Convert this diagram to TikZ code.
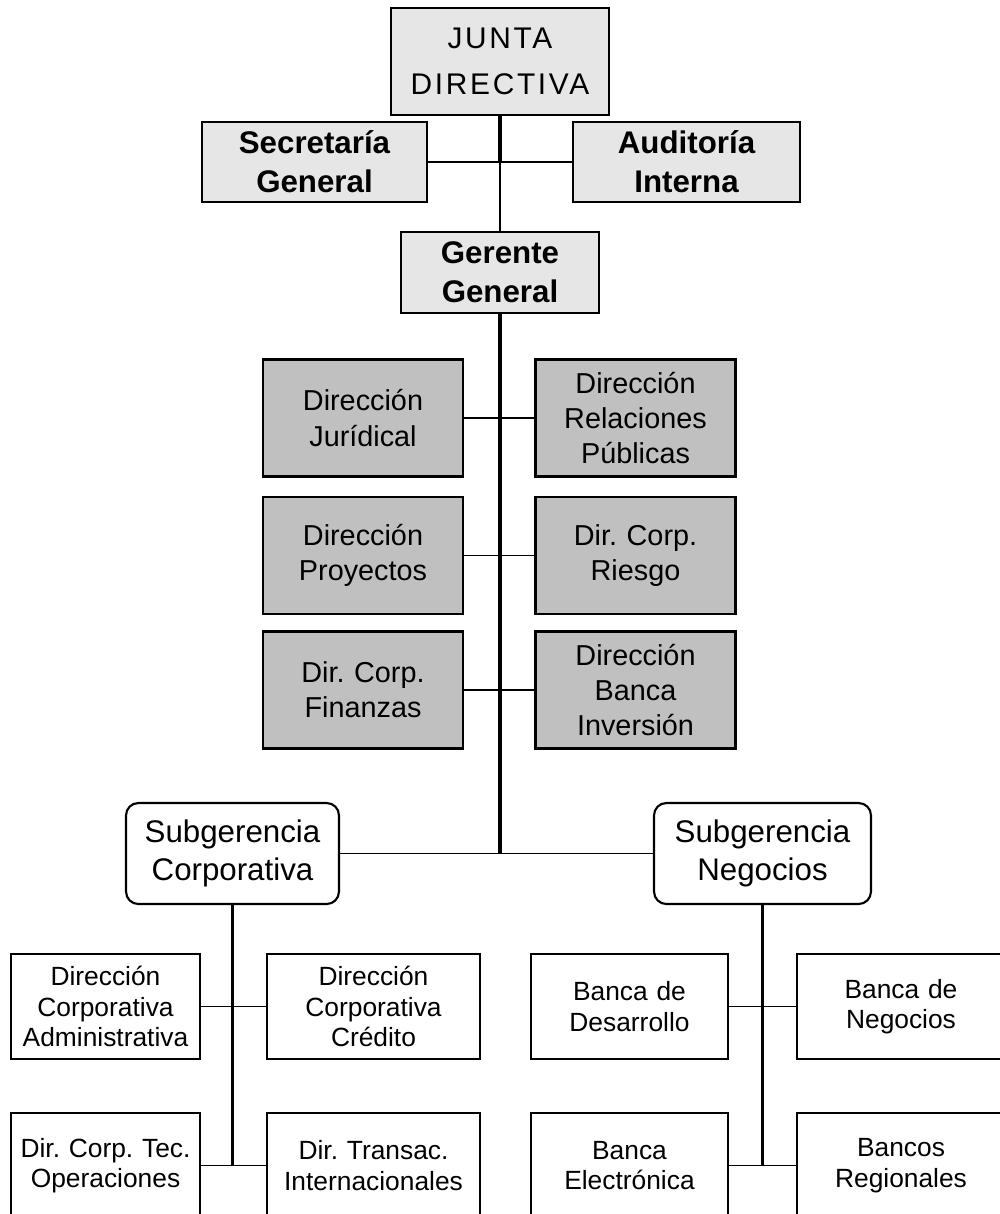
\documentclass[tikz,border=0pt]{standalone}
\usepackage{fontspec}
\setmainfont{Liberation Sans}
\newfontfamily\juntafont[LetterSpace=9]{Liberation Sans}
\usepackage{xcolor}
\usepackage{tikz}
\usetikzlibrary{positioning}
\definecolor{jdgray}{RGB}{230,230,230}
\definecolor{dirgray}{RGB}{192,192,192}
\frenchspacing

\begin{document}
\begin{tikzpicture}[x=0.02cm, y=-0.02cm,
      topbox/.style={draw, line width=1.2pt, fill=jdgray, inner sep=0pt,
                  align=center, font=\bfseries\fontsize{17.8}{22}\selectfont},
      midbox/.style={draw, line width=1.2pt, fill=dirgray, inner sep=0pt,
                  text width=4cm, minimum height=2.34cm, align=center,
                  font=\fontsize{16.4}{20}\selectfont},
      subbox/.style={draw, line width=1.2pt, fill=white, rounded corners=7pt,
                  inner sep=0pt, minimum height=2.02cm, align=center,
                  font=\fontsize{17.8}{21.6}\selectfont},
      unitbox/.style={draw, line width=1.2pt, fill=white, inner sep=0pt,
                  minimum height=2.1cm, align=center,
                  font=\fontsize{15}{17.4}\selectfont},
      link/.style={line width=1.1pt, black},
      trunk/.style={line width=1.8pt, black}
    ]
    \useasboundingbox (0,0) rectangle (1000,1214);
    \clip (0,0) rectangle (1000,1214);

    % board and staff
    \node[topbox, text width=4.36cm, minimum height=2.14cm,
          font=\juntafont\fontsize{17}{26}\selectfont] (junta) at (500,61.5) {JUNTA\\DIRECTIVA};
    \node[topbox, text width=4.5cm, minimum height=1.6cm] (secr) at (314.5,162) {Secretaría\\General};
    \node[topbox, text width=4.54cm, minimum height=1.6cm] (audi) at (686.5,162) {Auditoría\\Interna};
    \node[topbox, text width=3.96cm, minimum height=1.62cm] (gerente) at (500,272.5) {Gerente\\General};

    \draw[link] (secr.east) -- (audi.west);
    \draw[link] (junta.south) -- (gerente.north);
    \draw[line width=2.3pt] (junta.south) -- (junta.south |- secr.east);

    % directions under the general manager
    \node[midbox] (jur)  at (363,418)   {Dirección\\Jurídical};
    \node[midbox] (rp)   at (635.5,418) {Dirección\\Relaciones\\Públicas};
    \node[midbox] (proy) at (363,555.5) {Dirección\\Proyectos};
    \node[midbox] (rie)  at (635.5,555.5) {Dir. Corp.\\Riesgo};
    \node[midbox] (fin)  at (363,690)   {Dir. Corp.\\Finanzas};
    \node[midbox] (inv)  at (635.5,690) {Dirección\\Banca\\Inversión};

    % sub-managements
    \node[subbox, text width=4.26cm] (subcorp) at (232.5,853.5) {Subgerencia\\Corporativa};
    \node[subbox, text width=4.34cm] (subneg)  at (762.5,853.5) {Subgerencia\\Negocios};

    \draw[trunk] (gerente.south) -- (gerente.south |- subcorp.east);
    \draw[link] (jur.east) -- (rp.west);
    \draw[link] (proy.east) -- (rie.west);
    \draw[link] (fin.east) -- (inv.west);
    \draw[link] (subcorp.east) -- (subneg.west);

    % corporate units
    \node[unitbox, text width=3.78cm] (adm)  at (105.5,1006.5) {Dirección\\Corporativa\\Administrativa};
    \node[unitbox, text width=4.26cm] (cred) at (373.5,1006.5) {Dirección\\Corporativa\\Crédito};
    \node[unitbox, text width=3.78cm] (ope)  at (105.5,1165.5) {Dir. Corp. Tec.\\Operaciones};
    \node[unitbox, text width=4.26cm] (tra)  at (373.5,1165.5) {Dir. Transac.\\Internacionales};

    % business units
    \node[unitbox, text width=3.94cm] (des)  at (629.5,1006.5) {Banca de\\Desarrollo};
    \node[unitbox, text width=4.16cm] (neg)  at (901,1006.5)   {Banca de\\Negocios};
    \node[unitbox, text width=3.94cm] (ele)  at (629.5,1165.5) {Banca\\Electrónica};
    \node[unitbox, text width=4.16cm] (reg)  at (901,1165.5)   {Bancos\\Regionales};

    \draw[trunk] (subcorp.south) -- (subcorp.south |- ope.east);
    \draw[trunk] (subneg.south) -- (subneg.south |- ele.east);
    \draw[link] (adm.east) -- (cred.west);
    \draw[link] (ope.east) -- (tra.west);
    \draw[link] (des.east) -- (neg.west);
    \draw[link] (ele.east) -- (reg.west);
  \end{tikzpicture}
\end{document}
